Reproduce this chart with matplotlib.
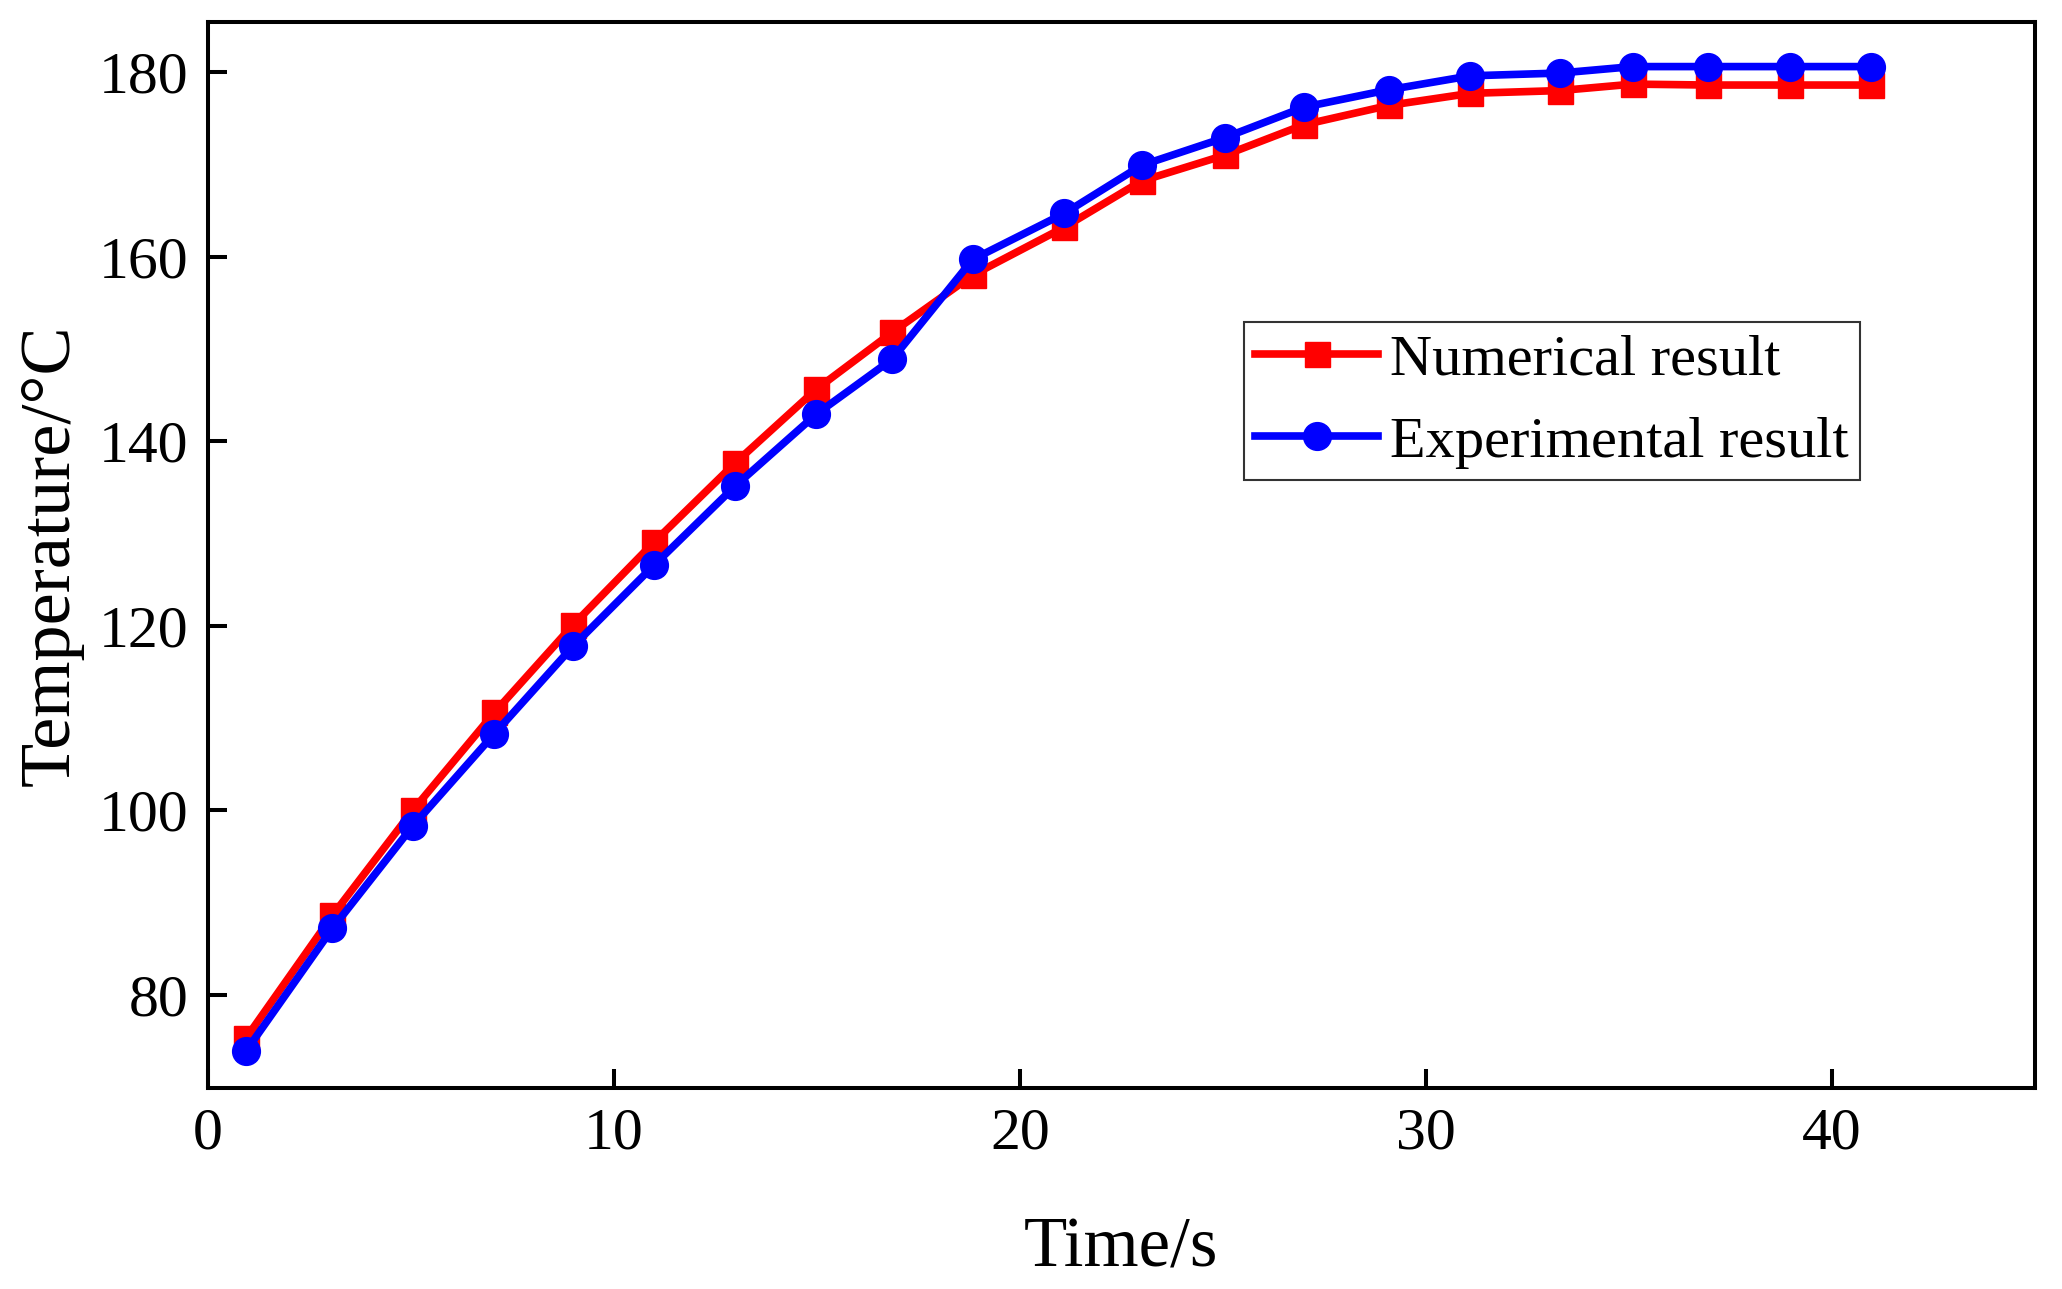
import matplotlib.pyplot as plt

plt.rcParams['font.family'] = ['Liberation Serif', 'DejaVu Serif']

tiempo_num = [0.94, 3.07, 5.05, 7.06, 9.0, 11.0, 12.98, 14.98, 16.86, 18.84, 21.1,
              23.0, 25.05, 27.0, 29.1, 31.1, 33.3, 35.1, 36.96, 38.96, 40.97]
temp_num = [75.3, 88.6, 100.0, 110.6, 120.1, 129.1, 137.6, 145.6, 151.8, 158.0, 163.2,
            168.2, 171.0, 174.3, 176.4, 177.7, 178.0, 178.7, 178.6, 178.6, 178.6]

tiempo_exp = [0.94, 3.07, 5.05, 7.06, 9.0, 11.0, 12.98, 14.98, 16.86, 18.84, 21.1,
              23.0, 25.05, 27.0, 29.1, 31.1, 33.3, 35.1, 36.96, 38.96, 40.97]
temp_exp = [73.9, 87.2, 98.3, 108.3, 117.8, 126.6, 135.1, 142.9, 148.9, 159.7, 164.7,
            169.9, 172.9, 176.2, 178.1, 179.6, 179.9, 180.6, 180.6, 180.6, 180.6]

fig = plt.figure(figsize=(20.62, 12.89), dpi=100)
ax = fig.add_axes([0.1008, 0.156, 0.886, 0.8267])

ax.plot(tiempo_num, temp_num, color='#ff0000', linewidth=5.5, marker='s',
        markersize=18, label='Numerical result')
ax.plot(tiempo_exp, temp_exp, color='#0000ff', linewidth=5.5, marker='o',
        markersize=20, label='Experimental result')

ax.set_xlim(0, 45)
ax.set_ylim(69.9, 185.4)
ax.set_xticks([0, 10, 20, 30, 40])
ax.set_yticks([80, 100, 120, 140, 160, 180])

ax.set_xlabel('Time/s', fontsize=51, labelpad=40)
ax.set_ylabel('Temperature/°C', fontsize=52, labelpad=11)

ax.tick_params(direction='in', length=14, width=2.9, labelsize=43, pad=14,
               top=False, right=False)
for s in ax.spines.values():
    s.set_linewidth(2.9)

# leyenda con marco negro recto
leg = ax.legend(loc='upper left', bbox_to_anchor=(0.567, 0.7185), fontsize=42,
                frameon=True, fancybox=False, edgecolor='black',
                borderaxespad=0, handlelength=2.1, borderpad=0.2,
                labelspacing=0.5, handletextpad=0.2)
leg.get_frame().set_linewidth(1.5)

plt.savefig('out.png', dpi=100)
